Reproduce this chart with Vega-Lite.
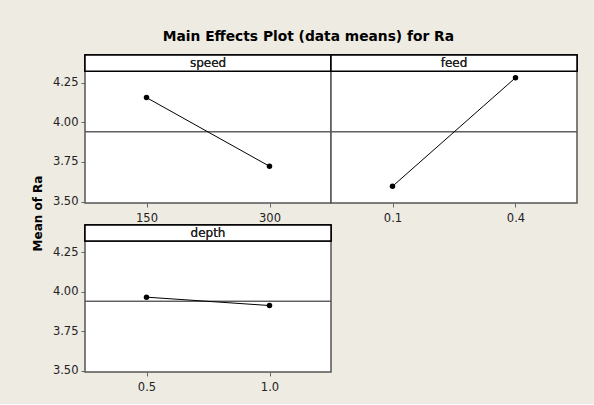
{
  "$schema": "https://vega.github.io/schema/vega-lite/v6.json",
  "background": "#EEEBE2",
  "padding": {"left": 30, "top": 29, "right": 17, "bottom": 10},
  "title": {"text": "Main Effects Plot (data means) for Ra", "font": "DejaVu Sans", "fontSize": 13.8, "fontWeight": "bold", "color": "#000000", "anchor": "middle", "offset": 10, "dx": 4},
  "data": {"values": [
    {"factor": "speed", "level": 150, "mean": 4.155},
    {"factor": "speed", "level": 300, "mean": 3.723},
    {"factor": "feed", "level": 0.1, "mean": 3.597},
    {"factor": "feed", "level": 0.4, "mean": 4.28},
    {"factor": "depth", "level": 0.5, "mean": 3.966},
    {"factor": "depth", "level": 1.0, "mean": 3.913}
  ]},
  "columns": 2,
  "spacing": {"row": 22, "column": 0},
  "bounds": "flush",
  "config": {
    "view": {"stroke": "#555555", "strokeWidth": 1.5, "fill": "#FFFFFF"},
    "axis": {"labelFont": "DejaVu Sans", "labelFontSize": 11.5, "labelColor": "#222222", "tickColor": "#666666", "tickSize": 4, "domain": false, "grid": false, "labelPadding": 3, "titleFont": "DejaVu Sans"},
    "axisX": {"labelPadding": 5}
  },
  "concat": [
    {
      "width": 246, "height": 148,
      "transform": [{"filter": "datum.factor === 'speed'"}],
      "layer": [
        {"mark": {"type": "rect", "fill": "#FFFFFF", "stroke": "#000000", "strokeWidth": 1.5}, "encoding": {
          "x": {"datum": 75, "type": "quantitative", "scale": {"domain": [75, 375], "nice": false, "zero": false}, "axis": {"values": [150, 300], "format": "d", "title": null}},
          "x2": {"datum": 375},
          "y": {"datum": 4.3215, "type": "quantitative", "scale": {"domain": [3.492, 4.423], "nice": false, "zero": false}, "axis": {"values": [3.5, 3.75, 4.0, 4.25], "format": ".2f", "title": "Mean of Ra", "titleFontSize": 12, "titleFontWeight": "bold", "titleColor": "#000000", "titleAngle": 270, "titleX": -48, "titleY": 158, "titleAlign": "center", "titleBaseline": "middle"}},
          "y2": {"datum": 4.423}}},
        {"mark": {"type": "text", "font": "DejaVu Sans", "fontSize": 12, "color": "#222222", "baseline": "middle"}, "encoding": {"x": {"datum": 225}, "y": {"datum": 4.372}, "text": {"value": "speed"}}},
        {"mark": {"type": "rule", "color": "#555555", "strokeWidth": 1}, "encoding": {"y": {"datum": 3.94}}},
        {"mark": {"type": "line", "color": "#000000", "strokeWidth": 1}, "encoding": {"x": {"field": "level", "type": "quantitative"}, "y": {"field": "mean", "type": "quantitative"}}},
        {"mark": {"type": "point", "filled": true, "color": "#000000", "size": 30, "opacity": 1}, "encoding": {"x": {"field": "level", "type": "quantitative"}, "y": {"field": "mean", "type": "quantitative"}}}
      ]
    },
    {
      "width": 246, "height": 148,
      "transform": [{"filter": "datum.factor === 'feed'"}],
      "layer": [
        {"mark": {"type": "rect", "fill": "#FFFFFF", "stroke": "#000000", "strokeWidth": 1.5}, "encoding": {
          "x": {"datum": -0.05, "type": "quantitative", "scale": {"domain": [-0.05, 0.55], "nice": false, "zero": false}, "axis": {"values": [0.1, 0.4], "format": ".1f", "title": null}},
          "x2": {"datum": 0.55},
          "y": {"datum": 4.3215, "type": "quantitative", "scale": {"domain": [3.492, 4.423], "nice": false, "zero": false}, "axis": null},
          "y2": {"datum": 4.423}}},
        {"mark": {"type": "text", "font": "DejaVu Sans", "fontSize": 12, "color": "#222222", "baseline": "middle"}, "encoding": {"x": {"datum": 0.25}, "y": {"datum": 4.372}, "text": {"value": "feed"}}},
        {"mark": {"type": "rule", "color": "#555555", "strokeWidth": 1}, "encoding": {"y": {"datum": 3.94}}},
        {"mark": {"type": "line", "color": "#000000", "strokeWidth": 1}, "encoding": {"x": {"field": "level", "type": "quantitative"}, "y": {"field": "mean", "type": "quantitative"}}},
        {"mark": {"type": "point", "filled": true, "color": "#000000", "size": 30, "opacity": 1}, "encoding": {"x": {"field": "level", "type": "quantitative"}, "y": {"field": "mean", "type": "quantitative"}}}
      ]
    },
    {
      "width": 246, "height": 147,
      "transform": [{"filter": "datum.factor === 'depth'"}],
      "layer": [
        {"mark": {"type": "rect", "fill": "#FFFFFF", "stroke": "#000000", "strokeWidth": 1.5}, "encoding": {
          "x": {"datum": 0.25, "type": "quantitative", "scale": {"domain": [0.25, 1.25], "nice": false, "zero": false}, "axis": {"values": [0.5, 1.0], "format": ".1f", "title": null}},
          "x2": {"datum": 1.25},
          "y": {"datum": 4.3215, "type": "quantitative", "scale": {"domain": [3.492, 4.423], "nice": false, "zero": false}, "axis": {"values": [3.5, 3.75, 4.0, 4.25], "format": ".2f", "title": null}},
          "y2": {"datum": 4.423}}},
        {"mark": {"type": "text", "font": "DejaVu Sans", "fontSize": 12, "color": "#222222", "baseline": "middle"}, "encoding": {"x": {"datum": 0.75}, "y": {"datum": 4.372}, "text": {"value": "depth"}}},
        {"mark": {"type": "rule", "color": "#555555", "strokeWidth": 1}, "encoding": {"y": {"datum": 3.94}}},
        {"mark": {"type": "line", "color": "#000000", "strokeWidth": 1}, "encoding": {"x": {"field": "level", "type": "quantitative"}, "y": {"field": "mean", "type": "quantitative"}}},
        {"mark": {"type": "point", "filled": true, "color": "#000000", "size": 30, "opacity": 1}, "encoding": {"x": {"field": "level", "type": "quantitative"}, "y": {"field": "mean", "type": "quantitative"}}}
      ]
    }
  ]
}
